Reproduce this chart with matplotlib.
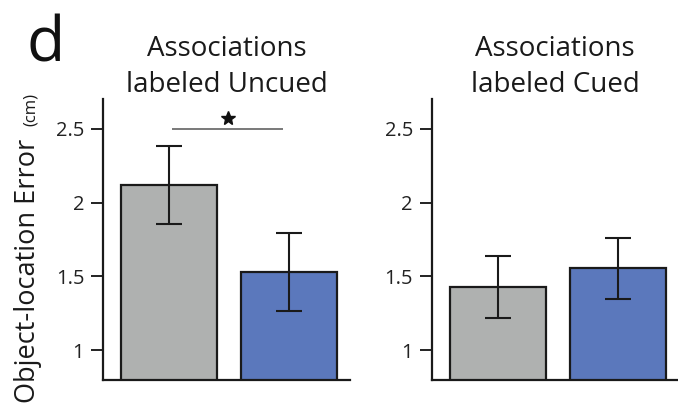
import matplotlib
matplotlib.use("Agg")
import matplotlib.pyplot as plt

plt.rcParams['font.family'] = ['Open Sans', 'DejaVu Sans']

conditions = ["Uncued", "Cued"]
titles = ["Associations\nlabeled Uncued", "Associations\nlabeled Cued"]
group_labels = ["Control", "Reactivated"]
means = {"Uncued": [2.12, 1.53], "Cued": [1.43, 1.556]}
errors = {"Uncued": [0.265, 0.265], "Cued": [0.21, 0.207]}
yticks = [1, 1.5, 2, 2.5]
ytick_labels = ["1", "1.5", "2", "2.5"]

bar_colors = ["#afb1b0", "#5b78bc"]

fig = plt.figure(figsize=(6.78, 4.09), dpi=100)
axes_pos = [[0.1519, 0.0709, 0.3643, 0.687],
            [0.6367, 0.0709, 0.3643, 0.687]]

for i, cond in enumerate(conditions):
    ax = fig.add_axes(axes_pos[i])
    x = list(range(len(group_labels)))
    ax.bar(x, means[cond], width=0.8, color=bar_colors,
           edgecolor="#1a1a1a", linewidth=1.6, zorder=2)
    ax.errorbar(x, means[cond], yerr=errors[cond], fmt="none",
                ecolor="#1a1a1a", elinewidth=1.5, capsize=9.5,
                capthick=1.5, zorder=3)
    ax.set_xlim(-0.553, 1.505)
    ax.set_ylim(0.8, 2.7)
    ax.set_xticks([])
    ax.set_yticks(yticks)
    ax.set_yticklabels(ytick_labels, fontsize=14.5, color="#222222")
    ax.tick_params(axis="y", direction="out", length=8.5, width=1.4,
                   pad=5, color="#222222")
    for side in ("top", "right"):
        ax.spines[side].set_visible(False)
    for side in ("left", "bottom"):
        ax.spines[side].set_linewidth(1.6)
        ax.spines[side].set_color("#1a1a1a")
    ax.set_title(titles[i], fontsize=20, color="#1a1a1a",
                 linespacing=1.4, pad=4)
    if cond == "Uncued":
        ax.plot([0.02, 0.95], [2.5, 2.5], color="#555555", lw=1.1,
                solid_capstyle="butt", clip_on=False)
        ax.plot([0.485], [2.572], marker="*", ms=10, color="#111111",
                mec="#111111", clip_on=False)

fig.text(35 / 678, 1 - 271 / 409, "Object-location Error", rotation=90,
         rotation_mode="anchor", ha="center", va="baseline",
         fontsize=19.5, color="#1a1a1a")
fig.text(35 / 678, 1 - 109 / 409, "(cm)", rotation=90,
         rotation_mode="anchor", ha="center", va="baseline",
         fontsize=12, color="#1a1a1a")
fig.text(26 / 678, 1 - 62 / 409, "d", ha="left", va="baseline",
         fontsize=45, color="#111111")

fig.savefig("out.png", dpi=100)
